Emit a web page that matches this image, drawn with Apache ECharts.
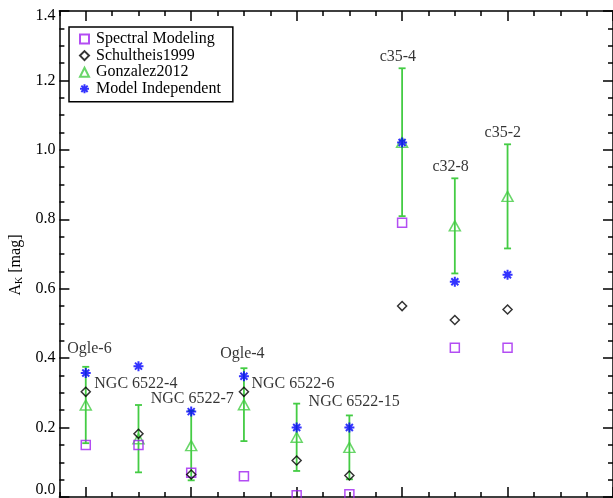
<!DOCTYPE html>
<html>
<head>
<meta charset="utf-8">
<script src="https://cdn.jsdelivr.net/npm/echarts@6.0.0/dist/echarts.min.js"></script>
<style>
html, body { margin: 0; padding: 0; background: #fff; }
#main { width: 613px; height: 498px; }
</style>
</head>
<body>
<div id="main"></div>
<script>
// x position of each star (one per column)
var starNames = ['Ogle-6', 'NGC 6522-4', 'NGC 6522-7', 'Ogle-4', 'NGC 6522-6', 'NGC 6522-15', 'c35-4', 'c32-8', 'c35-2'];
var xPos = [0, 1, 2, 3, 4, 5, 6, 7, 8];

var spectralModeling = [0.15, 0.15, 0.07, 0.06, 0.005, 0.008, 0.79, 0.43, 0.43];
var schultheis1999 = [0.303, 0.182, 0.065, 0.303, 0.105, 0.062, 0.55, 0.51, 0.54];
var gonzalez2012 = [0.265, 0.168, 0.148, 0.266, 0.172, 0.143, 1.022, 0.781, 0.866];
var gonzalezErr = [0.11, 0.097, 0.1, 0.105, 0.097, 0.092, 0.213, 0.137, 0.15];
var modelIndependent = [0.357, 0.377, 0.246, 0.348, 0.2, 0.2, 1.021, 0.62, 0.64];

// where the name of each star is written (data units)
var labelX = [0.07, 0.95, 2.02, 2.97, 3.93, 5.09, 5.92, 6.92, 7.91];
var labelY = [0.427, 0.327, 0.282, 0.413, 0.327, 0.273, 1.268, 0.95, 1.05];

var yTicks = [0, 0.2, 0.4, 0.6, 0.8, 1.0, 1.2, 1.4];
var xMajor = [0, 2, 4, 6, 8, 10];
var xMinor = [];
for (var i = 0; i < xMajor.length; i++) {
    xMinor.push(xMajor[i] - 0.5, xMajor[i] + 0.5, xMajor[i] + 1, xMajor[i] + 1.5);
}

var fontName = 'Liberation Serif';
var cPurple = '#a020f0';
var cGreen = '#44cc44';
var cBlue = '#0000ff';
var starPath = 'path://M0,5L10,5M5,0L5,10M1.5,1.5L8.5,8.5M8.5,1.5L1.5,8.5';

function pairs(ys) {
    var out = [];
    for (var i = 0; i < ys.length; i++) out.push([xPos[i], ys[i]]);
    return out;
}

var errData = [];
for (var i = 0; i < xPos.length; i++) {
    errData.push([xPos[i], gonzalez2012[i] - gonzalezErr[i], gonzalez2012[i] + gonzalezErr[i]]);
}
var labelData = [];
for (var i = 0; i < starNames.length; i++) {
    labelData.push({ value: [labelX[i], labelY[i]], name: starNames[i] });
}

function xAxisDef(pos, ticks, len, showLine) {
    return {
        type: 'value', position: pos, min: -0.5, max: 10,
        axisLine: { show: showLine, onZero: false, lineStyle: { color: '#000', width: 1.5 } },
        axisTick: { show: true, inside: true, length: len, customValues: ticks, lineStyle: { color: '#000', width: 1.5 } },
        axisLabel: { show: false },
        splitLine: { show: false }
    };
}

function yAxisDef(pos, showLabel) {
    return {
        type: 'value', position: pos, min: 0, max: 1.4, interval: 0.2,
        axisLine: { show: true, onZero: false, lineStyle: { color: '#000', width: 1.5 } },
        axisTick: { show: true, inside: true, length: 10, lineStyle: { color: '#000', width: 1.5 } },
        minorTick: { show: true, splitNumber: 4, length: 5, lineStyle: { color: '#000', width: 1.5 } },
        splitLine: { show: false },
        axisLabel: {
            show: showLabel, margin: 4, color: '#000', fontFamily: fontName, fontSize: 16,
            formatter: function (v) {
                var s = v.toFixed(1);
                if (v === yTicks[yTicks.length - 1]) return '{top|' + s + '}';
                if (v === yTicks[0]) return '{bot|' + s + '}';
                return '{n|' + s + '}';
            },
            rich: {
                n: { fontFamily: fontName, fontSize: 16, color: '#000' },
                top: { fontFamily: fontName, fontSize: 16, color: '#000', padding: [10, 0, 0, 0] },
                bot: { fontFamily: fontName, fontSize: 16, color: '#000', padding: [0, 0, 14, 0] }
            }
        }
    };
}

var leftAxis = yAxisDef('left', true);
leftAxis.name = '{a|A}{s|K}{a| [mag]}';
leftAxis.nameLocation = 'middle';
leftAxis.nameRotate = 90;
leftAxis.nameGap = 33;
leftAxis.nameTextStyle = {
    fontFamily: fontName, fontSize: 16, color: '#000', padding: [0, 22, 0, 0],
    rich: {
        a: { fontFamily: fontName, fontSize: 16, color: '#000' },
        s: { fontFamily: fontName, fontSize: 10, color: '#000', padding: [7, 0, 0, 0] }
    }
};

var myChart = echarts.init(document.getElementById('main'), null, { renderer: 'canvas' });
var option = {
    animation: false,
    backgroundColor: '#fff',
    grid: { left: 59, top: 11, right: -1, bottom: -1, containLabel: false },
    legend: {
        orient: 'vertical', left: 69, top: 27,
        data: ['Spectral Modeling', 'Schultheis1999', 'Gonzalez2012', 'Model Independent'],
        itemWidth: 9, itemHeight: 9, itemGap: 0.6,
        padding: [4, 12, 5, 10],
        borderColor: '#000', borderWidth: 1.5, backgroundColor: '#fff',
        selectedMode: false,
        textStyle: { fontFamily: fontName, fontSize: 16, color: '#000', lineHeight: 16, padding: [0, 0, 0, 2] }
    },
    xAxis: [
        xAxisDef('bottom', xMajor, 10, true),
        xAxisDef('bottom', xMinor, 5, false),
        xAxisDef('top', xMajor, 10, true),
        xAxisDef('top', xMinor, 5, false)
    ],
    yAxis: [leftAxis, yAxisDef('right', false)],
    series: [
        {
            name: 'errbars', type: 'custom', xAxisIndex: 0, yAxisIndex: 0,
            data: errData, z: 1,
            renderItem: function (params, api) {
                var lo = api.coord([api.value(0), api.value(1)]);
                var hi = api.coord([api.value(0), api.value(2)]);
                var cap = 3.5;
                var st = { stroke: cGreen, lineWidth: 1.8 };
                return {
                    type: 'group',
                    children: [
                        { type: 'line', shape: { x1: lo[0], y1: lo[1], x2: hi[0], y2: hi[1] }, style: st },
                        { type: 'line', shape: { x1: lo[0] - cap, y1: lo[1], x2: lo[0] + cap, y2: lo[1] }, style: st },
                        { type: 'line', shape: { x1: hi[0] - cap, y1: hi[1], x2: hi[0] + cap, y2: hi[1] }, style: st }
                    ]
                };
            }
        },
        {
            name: 'Gonzalez2012', type: 'scatter', data: pairs(gonzalez2012), z: 2,
            symbol: 'triangle', symbolSize: [11, 10],
            itemStyle: { color: 'transparent', borderColor: cGreen, borderWidth: 1.5 }
        },
        {
            name: 'Spectral Modeling', type: 'scatter', data: pairs(spectralModeling), z: 3,
            symbol: 'rect', symbolSize: 9,
            itemStyle: { color: 'transparent', borderColor: cPurple, borderWidth: 1.5 }
        },
        {
            name: 'Schultheis1999', type: 'scatter', data: pairs(schultheis1999), z: 4,
            symbol: 'diamond', symbolSize: 9,
            itemStyle: { color: 'transparent', borderColor: '#000', borderWidth: 1.5 }
        },
        {
            name: 'Model Independent', type: 'scatter', data: pairs(modelIndependent), z: 5,
            symbol: starPath, symbolSize: 10,
            itemStyle: { color: 'transparent', borderColor: cBlue, borderWidth: 2 }
        },
        {
            name: 'names', type: 'scatter', data: labelData, z: 6,
            symbolSize: 0, silent: true,
            label: {
                show: true, position: 'inside', formatter: '{b}',
                fontFamily: fontName, fontSize: 16, color: '#000'
            }
        }
    ]
};
myChart.setOption(option);
</script>
</body>
</html>
